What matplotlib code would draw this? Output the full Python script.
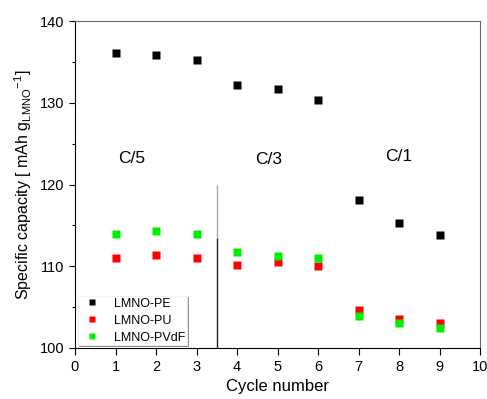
import numpy as np
import matplotlib.pyplot as plt
from matplotlib.ticker import MultipleLocator

plt.rcParams['font.family'] = ['Liberation Sans', 'DejaVu Sans']

cycles = [1, 2, 3, 4, 5, 6, 7, 8, 9]
pe = [136.1, 135.9, 135.3, 132.2, 131.7, 130.3, 118.1, 115.3, 113.8]
pu = [111.0, 111.4, 111.0, 110.2, 110.5, 110.0, 104.7, 103.5, 103.0]
pvdf = [114.0, 114.3, 114.0, 111.8, 111.3, 111.0, 103.9, 103.1, 102.5]

rates = ["C/5", "C/3", "C/1"]
rate_x = [1.41, 4.78, 7.99]
rate_y = [123.2, 123.1, 123.4]

fig = plt.figure(figsize=(4.87, 3.99), dpi=100)
ax = fig.add_axes([0.154, 0.128, 0.832, 0.819])

ms = 6
ax.plot(cycles, pe, 's', color='black', ms=ms, mec='none', label='LMNO-PE', zorder=3)
ax.plot(cycles, pu, 's', color='#ff0000', ms=ms, mec='none', label='LMNO-PU', zorder=3)
ax.plot(cycles, pvdf, 's', color='#00ee00', ms=ms, mec='none', label='LMNO-PVdF', zorder=4)

# rate separator
ax.vlines(3.5, 113.4, 120, color='#aaaaaa', lw=1)
ax.vlines(3.5, 100, 113.4, color='#222222', lw=1)

for t, x, y in zip(rates, rate_x, rate_y):
    ax.text(x, y, t, fontsize=12.5, ha='center', va='center')

ax.set_xlim(0, 10)
ax.set_ylim(100, 140)
ax.xaxis.set_major_locator(MultipleLocator(1))
ax.yaxis.set_major_locator(MultipleLocator(10))
ax.yaxis.set_minor_locator(MultipleLocator(5))
ax.tick_params(direction='out', labelsize=10.5, length=4, width=0.8)
ax.tick_params(which='minor', direction='out', length=2.5, width=0.8)
ax.tick_params(axis='x', length=5)
for s in ['top', 'right']:
    ax.spines[s].set_color('#666666')
for s in ax.spines.values():
    s.set_linewidth(0.8)

ax.set_xlabel("Cycle number", fontsize=12)
ax.set_ylabel(r"Specific capacity [ mAh g$_\mathregular{LMNO}$$^\mathregular{-1}$]", fontsize=11.5)

leg = ax.legend(loc='lower left', fontsize=9, frameon=True, fancybox=False,
                edgecolor='#eeeeee', markerscale=0.8, handletextpad=0.8,
                borderaxespad=0.25, labelspacing=0.4, borderpad=0.1,
                shadow={'color': '#888888', 'alpha': 1, 'ox': 0.8, 'oy': -0.8})
leg.get_frame().set_linewidth(0.6)

fig.savefig('out.png', dpi=100)
